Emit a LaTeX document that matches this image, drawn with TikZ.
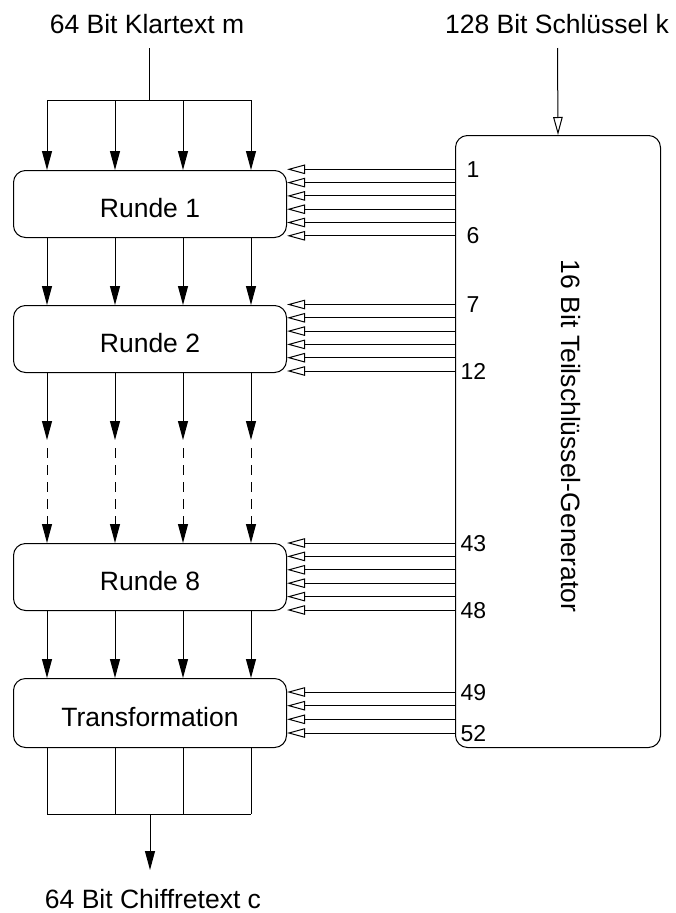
\documentclass[tikz,border=0pt]{standalone}
\usepackage{fontspec}
\setmainfont{Liberation Sans}
\usetikzlibrary{arrows.meta}
\begin{document}
\begin{tikzpicture}[x=1pt,y=-1pt,line width=1pt,
  big/.style={font=\fontsize{26.5}{30}\selectfont},
  small/.style={font=\fontsize{23}{26}\selectfont,inner sep=0pt,anchor=base west},
  blk/.style={draw,rounded corners=12pt,minimum width=273pt,minimum height=67pt,
    inner sep=0pt,text height=26pt,text depth=0pt,anchor=north west,big},
  genbox/.style={draw,rounded corners=12pt,minimum width=205pt,minimum height=612pt,
    inner sep=0pt,anchor=north west},
  farr/.style={-{Triangle[length=19pt,width=10pt]}},
  oarr/.style={-{Triangle[open,length=18pt,width=9.5pt]}},
  dsh/.style={dash pattern=on 10pt off 7pt}]
\useasboundingbox (0,0) rectangle (675,913);

% titles
\node[big,anchor=base] (m) at (147,33) {64 Bit Klartext m};
\node[big,anchor=base] (k) at (557,33) {128 Bit Schlüssel k};
\node[big,anchor=base,inner sep=1pt] (c) at (153,908) {64 Bit Chiffretext c};

% boxes
\node[blk] (r1) at (13,170) {Runde 1};
\node[blk] (r2) at (13,305) {Runde 2};
\node[blk] (r8) at (13,543) {Runde 8};
\node[blk,minimum height=69pt] (tr) at (13,678) {Transformation};
\node[genbox] (gen) at (455,135) {};
\node[big,rotate=-90] (gt) at (571,436) {16 Bit Teilschlüssel-Generator};

% input distribution
\coordinate (mtop) at (149,48);
\coordinate (split) at (149,100);
\draw (mtop) -- (split);
\draw ([xshift=34pt]r1.north west |- split) -- ([xshift=238pt]r1.north west |- split);
\foreach \s in {34,102,170,238}{
  \draw[farr] ([xshift=\s pt]r1.north west |- split) -- ([xshift=\s pt]r1.north west);
  \draw[farr] ([xshift=\s pt]r1.south west) -- ([xshift=\s pt]r2.north west);
  \draw[farr] ([xshift=\s pt]r8.south west) -- ([xshift=\s pt]tr.north west);
}

% gap between round 2 and round 8
\coordinate (gapA) at (13,440);
\coordinate (gapB) at (13,448);
\foreach \s in {34,102,170,238}{
  \draw[farr] ([xshift=\s pt]r2.south west) -- ([xshift=\s pt]gapA);
  \draw[farr,dsh] ([xshift=\s pt]gapB) -- ([xshift=\s pt]r8.north west);
}

% output collection
\coordinate (join) at (150,814);
\coordinate (cend) at (150,870);
\foreach \s in {34,102,170,238}{
  \draw ([xshift=\s pt]tr.south west) -- ([xshift=\s pt]tr.south west |- join);
}
\draw ([xshift=34pt]tr.south west |- join) -- ([xshift=238pt]tr.south west |- join);
\draw[farr] (join) -- (cend);

% key input
\coordinate (ktop) at (557.5,48);
\draw[oarr] (ktop) -- (gen.north);

% sub-key lines
\foreach \y in {169.3,182.6,195.9,209.2,222.5,235.8}{
  \draw[oarr] (gen.west |- 0,\y) -- (r1.east |- 0,\y);
}
\foreach \y in {304.5,317.8,331.1,344.4,357.7,371}{
  \draw[oarr] (gen.west |- 0,\y) -- (r2.east |- 0,\y);
}
\foreach \y in {543,556.4,569.8,583.2,596.6,610}{
  \draw[oarr] (gen.west |- 0,\y) -- (r8.east |- 0,\y);
}
\foreach \y in {692,705.7,719.3,733}{
  \draw[oarr] (gen.west |- 0,\y) -- (tr.east |- 0,\y);
}

% sub-key numbers
\node[small] (n1) at (466,177.3) {1};
\node[small] (n6) at (466,243.8) {6};
\node[small] (n7) at (466,312.5) {7};
\node[small] (n12) at (460,379) {12};
\node[small] (n43) at (460,551) {43};
\node[small] (n48) at (460,618) {48};
\node[small] (n49) at (460,700) {49};
\node[small] (n52) at (460,741) {52};
\end{tikzpicture}
\end{document}
